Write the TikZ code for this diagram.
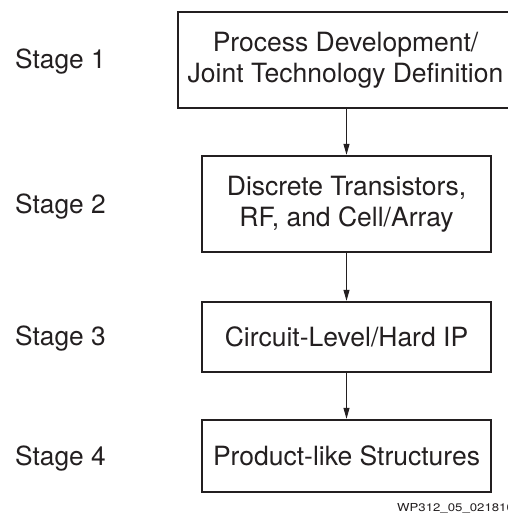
\documentclass[tikz,border=0pt]{standalone}
\usepackage{fontspec}
\setmainfont{TeX Gyre Heros}
\usetikzlibrary{arrows.meta}
\definecolor{ink}{HTML}{231F20}
\begin{document}
\begin{tikzpicture}[x=1pt,y=-1pt,
  boxframe/.style={draw=ink,line width=2.4pt,inner sep=0pt},
  boxtext/.style={text=ink,align=center,inner sep=0pt,
    font=\fontsize{26.5}{30.5}\selectfont},
  stagebox/.style={boxframe,boxtext},
  stagelabel/.style={anchor=base west,text=ink,inner sep=0pt,font=\fontsize{26.3}{30.5}\selectfont},
  flow/.style={draw=ink,line width=1pt,-{Triangle[length=11pt,width=6pt]}}]
\useasboundingbox (0,0) rectangle (508,517);
\clip (0,0) rectangle (508,517);
\fill[white] (0,0) rectangle (508,517);
\node[boxframe,minimum width=362pt,minimum height=96pt] (b1) at (359,60) {};
\node[boxtext] (t1) at (345.5,60) {Process Development/\\Joint Technology Definition};
\node[stagebox,minimum width=289pt,minimum height=96pt] (b2) at (346.5,204)
  {Discrete Transistors,\\RF, and Cell/Array};
\node[stagebox,minimum width=289pt,minimum height=70pt] (b3) at (346.5,337)
  {Circuit-Level/Hard IP};
\node[stagebox,minimum width=289pt,minimum height=72pt] (b4) at (346.5,456)
  {Product-like Structures};
\node[stagelabel] (s1) at (15,68) {Stage 1};
\node[stagelabel] (s2) at (15,213) {Stage 2};
\node[stagelabel] (s3) at (15,345) {Stage 3};
\node[stagelabel] (s4) at (15,465) {Stage 4};
\draw[flow] (b2.north |- b1.south) -- (b2.north);
\draw[flow] (b2.south) -- (b3.north);
\draw[flow] (b3.south) -- (b4.north);
\node[anchor=base west,text=ink,inner sep=0pt,font=\fontsize{11}{12}\selectfont] (fig) at (397,511) {\scalebox{1.2}[1]{WP312\_05\_021810}};
\end{tikzpicture}
\end{document}
